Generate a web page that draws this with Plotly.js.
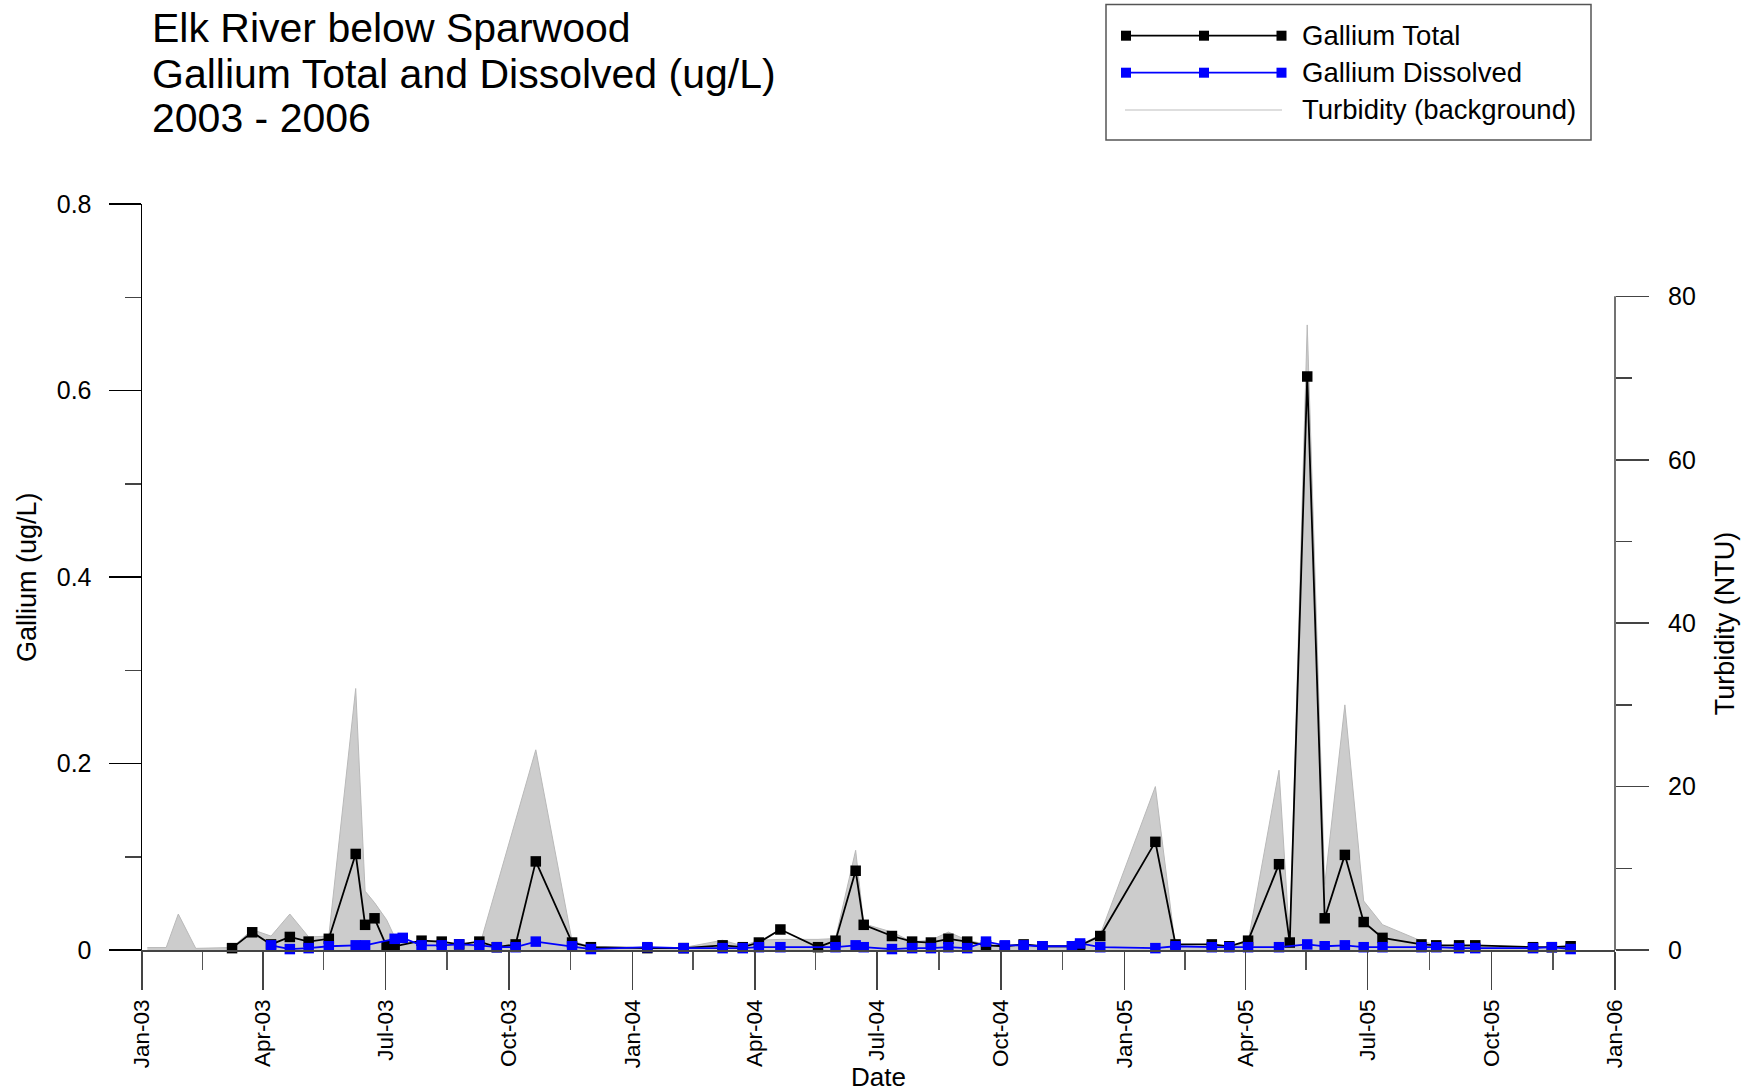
<!DOCTYPE html>
<html>
<head>
<meta charset="utf-8">
<script src="https://cdn.plot.ly/plotly-3.0.1.min.js"></script>
<style>html,body{margin:0;padding:0;background:#fff;}#chart{width:1756px;height:1092px;}</style>
</head>
<body>
<div id="chart"></div>
<script>
// ---------- DATA ----------
const totalDates = ['2003-03-09','2003-03-24','2003-04-07','2003-04-21','2003-05-05','2003-05-20','2003-06-09','2003-06-16','2003-06-23','2003-07-02','2003-07-08','2003-07-28','2003-08-12','2003-08-25','2003-09-09','2003-09-22','2003-10-06','2003-10-21','2003-11-17','2003-12-01',
  '2004-01-12','2004-02-08','2004-03-08','2004-03-23','2004-04-04','2004-04-20','2004-05-18','2004-05-31','2004-06-15','2004-06-21','2004-07-12','2004-07-27','2004-08-10','2004-08-23','2004-09-06','2004-09-20','2004-10-04','2004-10-18','2004-11-01','2004-11-23','2004-11-29','2004-12-14',
  '2005-01-24','2005-02-08','2005-03-07','2005-03-20','2005-04-03','2005-04-26','2005-05-04','2005-05-17','2005-05-30','2005-06-14','2005-06-28','2005-07-12','2005-08-10','2005-08-21','2005-09-07','2005-09-19','2005-11-01','2005-11-15','2005-11-29'];
const totalValues = [0.002,0.019,0.006,0.014,0.009,0.012,0.103,0.027,0.034,0.004,0.004,0.010,0.009,0.006,0.009,0.003,0.006,0.095,0.008,0.003,
  0.002,0.002,0.005,0.003,0.008,0.022,0.003,0.010,0.085,0.027,0.015,0.009,0.008,0.012,0.009,0.005,0.004,0.006,0.004,0.004,0.005,0.015,
  0.116,0.006,0.006,0.004,0.010,0.092,0.008,0.615,0.034,0.102,0.030,0.013,0.006,0.005,0.005,0.005,0.003,0.003,0.004];

const dissolvedDates = ['2003-04-07','2003-04-21','2003-05-05','2003-05-20','2003-06-09','2003-06-16','2003-07-08','2003-07-14','2003-07-28','2003-08-12','2003-08-25','2003-09-09','2003-09-22','2003-10-06','2003-10-21','2003-11-17','2003-12-01',
  '2004-01-12','2004-02-08','2004-03-08','2004-03-23','2004-04-04','2004-04-20','2004-05-31','2004-06-15','2004-06-21','2004-07-12','2004-07-27','2004-08-10','2004-08-23','2004-09-06','2004-09-20','2004-10-04','2004-10-18','2004-11-01','2004-11-23','2004-11-29','2004-12-14',
  '2005-01-24','2005-02-08','2005-03-07','2005-03-20','2005-04-03','2005-04-26','2005-05-17','2005-05-30','2005-06-14','2005-06-28','2005-07-12','2005-08-10','2005-08-21','2005-09-07','2005-09-19','2005-11-01','2005-11-15','2005-11-29'];
const dissolvedValues = [0.005,0.001,0.002,0.004,0.005,0.005,0.012,0.013,0.005,0.005,0.006,0.005,0.003,0.003,0.009,0.004,0.001,
  0.003,0.002,0.002,0.002,0.003,0.003,0.003,0.005,0.003,0.001,0.002,0.002,0.003,0.002,0.009,0.005,0.005,0.004,0.004,0.007,0.003,
  0.002,0.004,0.003,0.003,0.003,0.003,0.006,0.004,0.005,0.003,0.003,0.003,0.003,0.002,0.002,0.002,0.003,0.001];

const turbidityDates = ['2003-01-05','2003-01-19','2003-01-28','2003-02-10','2003-03-09','2003-03-24','2003-04-07','2003-04-21','2003-05-05','2003-05-20','2003-06-09','2003-06-16','2003-06-23','2003-07-02','2003-07-08','2003-07-14','2003-07-28','2003-08-12','2003-08-25','2003-09-09','2003-10-21','2003-11-17','2003-12-01',
  '2004-01-12','2004-02-08','2004-03-08','2004-03-23','2004-04-04','2004-04-20','2004-05-18','2004-05-31','2004-06-15','2004-06-21','2004-07-12','2004-07-27','2004-08-10','2004-08-23','2004-09-06','2004-09-20','2004-10-04','2004-10-18','2004-11-01','2004-11-23','2004-11-29','2004-12-14',
  '2005-01-24','2005-02-08','2005-03-07','2005-03-20','2005-04-03','2005-04-26','2005-05-04','2005-05-17','2005-05-30','2005-06-14','2005-06-28','2005-07-12','2005-08-10','2005-08-21','2005-09-07','2005-09-19','2005-11-01','2005-11-15','2005-11-29'];
const turbidityValues = [0.3,0.3,4.4,0.2,0.3,2.5,1.7,4.4,1.6,1.7,32.0,7.2,5.8,3.7,1.6,0.9,1.1,0.8,0.6,0.4,24.5,1.1,0.4,
  0.3,0.3,1.2,0.5,1.2,1.3,1.3,1.4,12.2,3.2,2.2,1.0,1.2,2.2,1.2,0.7,0.4,0.4,0.3,0.3,0.6,1.9,
  20.0,0.3,0.5,0.5,1.0,22.0,1.0,76.5,8.0,30.0,6.0,3.1,1.1,0.6,0.5,0.4,0.3,0.3,0.3];

const quarterTicks = ['2003-01-01','2003-04-01','2003-07-01','2003-10-01','2004-01-01','2004-04-01','2004-07-01','2004-10-01',
  '2005-01-01','2005-04-01','2005-07-01','2005-10-01','2006-01-01'];
const galliumTicks = [0, 0.2, 0.4, 0.6, 0.8];
const turbidityTicks = [0, 20, 40, 60, 80];

const titleLines = ['Elk River below Sparwood', 'Gallium Total and Dissolved (ug/L)', '2003 - 2006'];
const seriesNames = ['Gallium Total', 'Gallium Dissolved', 'Turbidity (background)'];

// ---------- GEOMETRY ----------
const W = 1756, H = 1092;
const M = {l: 142, r: 141, t: 204, b: 142};
const PW = W - M.l - M.r, PH = H - M.t - M.b;
const px = v => (v - M.l) / PW;
const py = v => (H - M.b - v) / PH;
const FONT = 'Liberation Sans, Arial, Helvetica, sans-serif';

const minorTicks = [];
for (let i = 0; i < quarterTicks.length - 1; i++) {
  const a = new Date(quarterTicks[i] + 'T00:00:00Z').getTime();
  const b = new Date(quarterTicks[i + 1] + 'T00:00:00Z').getTime();
  minorTicks.push(new Date((a + b) / 2).toISOString().slice(0, 10));
}
const turbMinor = [];
for (let i = 0; i < turbidityTicks.length - 1; i++) turbMinor.push((turbidityTicks[i] + turbidityTicks[i + 1]) / 2);
const galMinor = [];
for (let i = 0; i < galliumTicks.length - 1; i++) galMinor.push((galliumTicks[i] + galliumTicks[i + 1]) / 2);

// turbidity on the primary (background) axis, gallium on the overlaying axis so it draws on top
const traces = [
  {x: turbidityDates, y: turbidityValues, yaxis: 'y', type: 'scatter', mode: 'lines', name: seriesNames[2],
   fill: 'tozeroy', fillcolor: '#cccccc', line: {color: '#b9b9b9', width: 1}, cliponaxis: false},
  {x: totalDates, y: totalValues, yaxis: 'y2', type: 'scatter', mode: 'lines+markers', name: seriesNames[0],
   line: {color: '#000000', width: 1.8}, marker: {symbol: 'square', size: 10.5, color: '#000000'}, cliponaxis: false},
  {x: dissolvedDates, y: dissolvedValues, yaxis: 'y2', type: 'scatter', mode: 'lines+markers', name: seriesNames[1],
   line: {color: '#0000ff', width: 1.8}, marker: {symbol: 'square', size: 10.5, color: '#0000ff'}, cliponaxis: false}
];

// ---------- LEGEND (drawn) ----------
const shapes = [];
const annotations = [];
shapes.push({type: 'rect', xref: 'paper', yref: 'paper', x0: px(1106), x1: px(1591), y0: py(4.5), y1: py(140),
  line: {color: '#555555', width: 1.5}, fillcolor: 'rgba(0,0,0,0)', layer: 'above'});
const legRows = [35.7, 72.7, 110];
const legColors = ['#000000', '#0000ff', '#bdbdbd'];
for (let i = 0; i < 3; i++) {
  shapes.push({type: 'line', xref: 'paper', yref: 'paper', x0: px(1125), x1: px(1282), y0: py(legRows[i]), y1: py(legRows[i]),
    line: {color: legColors[i], width: i < 2 ? 1.8 : 1.2}, layer: 'above'});
  if (i < 2) {
    [1126, 1204, 1281.5].forEach(cx => {
      shapes.push({type: 'rect', xref: 'paper', yref: 'paper', x0: px(cx - 5), x1: px(cx + 5),
        y0: py(legRows[i] + 5), y1: py(legRows[i] - 5), line: {width: 0}, fillcolor: legColors[i], layer: 'above'});
    });
  }
  annotations.push({xref: 'paper', yref: 'paper', x: px(1300), y: py(legRows[i]), xanchor: 'left', yanchor: 'middle',
    text: seriesNames[i], showarrow: false, font: {family: FONT, size: 27.5, color: '#000'}});
}

// right axis line only from 0 to 80
shapes.push({type: 'line', xref: 'paper', yref: 'y', x0: 1, x1: 1, y0: 0, y1: turbidityTicks[turbidityTicks.length - 1],
  line: {color: '#444444', width: 1.5}, layer: 'above'});

// title lines
const titleCenters = [28.5, 74, 118.5];
titleLines.forEach((t, i) => {
  annotations.push({xref: 'paper', yref: 'paper', x: px(150), y: py(titleCenters[i]), xanchor: 'left', yanchor: 'middle',
    text: t, showarrow: false, font: {family: FONT, size: 41, color: '#000'}});
});

// axis titles
annotations.push({xref: 'paper', yref: 'y', x: px(1725), y: 40, xanchor: 'center', yanchor: 'middle', textangle: -90,
  text: 'Turbidity (NTU)', showarrow: false, font: {family: FONT, size: 27, color: '#000'}});
annotations.push({xref: 'paper', yref: 'paper', x: px(27), y: 0.5, xanchor: 'center', yanchor: 'middle', textangle: -90,
  text: 'Gallium (ug/L)', showarrow: false, font: {family: FONT, size: 27, color: '#000'}});
annotations.push({xref: 'paper', yref: 'paper', x: 0.5, y: py(1077), xanchor: 'center', yanchor: 'middle',
  text: 'Date', showarrow: false, font: {family: FONT, size: 26, color: '#000'}});

const layout = {
  width: W, height: H,
  margin: {l: M.l, r: M.r, t: M.t, b: M.b, pad: 0},
  paper_bgcolor: '#ffffff', plot_bgcolor: '#ffffff',
  showlegend: false,
  font: {family: FONT, color: '#000'},
  xaxis: {
    type: 'date', range: [quarterTicks[0], quarterTicks[quarterTicks.length - 1]],
    tickmode: 'array', tickvals: quarterTicks, tickformat: '%b-%y', tickangle: -90,
    ticks: 'outside', ticklen: 38, tickwidth: 1.5, tickcolor: '#444444',
    tickfont: {family: FONT, size: 22.5, color: '#000'}, ticklabelstandoff: 1,
    showline: true, linecolor: '#444444', linewidth: 1.5, showgrid: false, zeroline: false,
    minor: {tickmode: 'array', tickvals: minorTicks, ticks: 'outside', ticklen: 18, tickwidth: 1.5, tickcolor: '#555555', showgrid: false},
    automargin: false
  },
  yaxis: {
    side: 'right', range: [0, 91.3],
    tickmode: 'array', tickvals: turbidityTicks,
    ticks: 'outside', ticklen: 33, tickwidth: 1.5, tickcolor: '#444444',
    tickfont: {family: FONT, size: 25, color: '#000'}, ticklabelstandoff: 14,
    showline: false, showgrid: false, zeroline: false,
    minor: {tickmode: 'array', tickvals: turbMinor, ticks: 'outside', ticklen: 16, tickwidth: 1.5, tickcolor: '#444444', showgrid: false},
    automargin: false
  },
  yaxis2: {
    overlaying: 'y', side: 'left', range: [0, galliumTicks[galliumTicks.length - 1]],
    tickmode: 'array', tickvals: galliumTicks,
    ticks: 'outside', ticklen: 32, tickwidth: 1.5, tickcolor: '#000000',
    tickfont: {family: FONT, size: 25, color: '#000'}, ticklabelstandoff: 12,
    showline: true, linecolor: '#000000', linewidth: 1.5, showgrid: false, zeroline: false,
    minor: {tickmode: 'array', tickvals: galMinor, ticks: 'outside', ticklen: 16, tickwidth: 1.5, tickcolor: '#444444', showgrid: false},
    automargin: false
  },
  shapes: shapes,
  annotations: annotations
};

Plotly.newPlot('chart', traces, layout, {displayModeBar: false, staticPlot: true});
</script>
</body>
</html>
